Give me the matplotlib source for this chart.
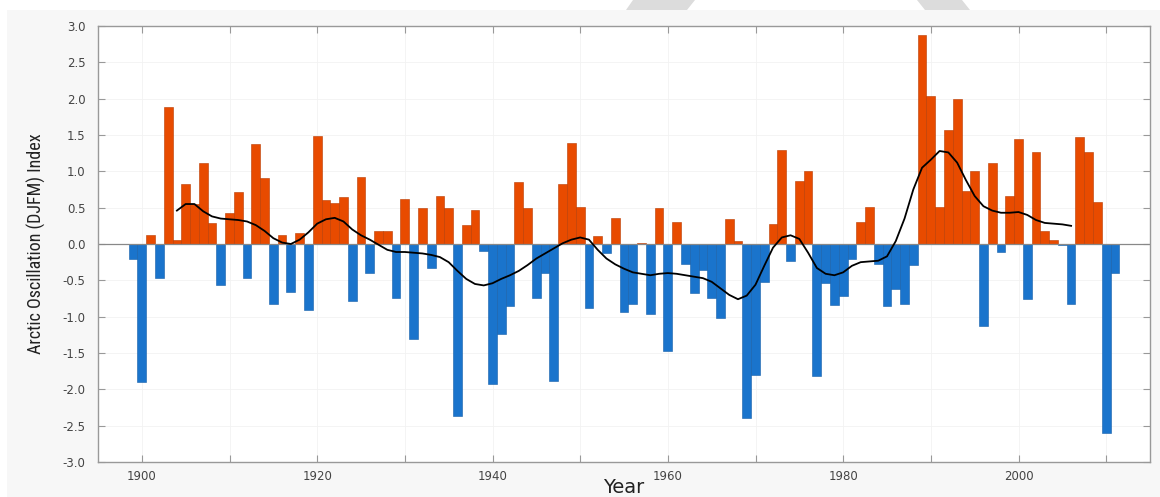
"""
Arctic Oscillation (DJFM) index, 1899-2011, with smoothed curve
"""

import matplotlib
matplotlib.use('Agg')
import matplotlib.pyplot as plt
from matplotlib import font_manager
from matplotlib.patches import Polygon, Rectangle

# Winter (DJFM) AO index, one value per year starting 1899
first_year = 1899
ao_index = [
    -0.20, -1.90, 0.12, -0.47, 1.88, 0.05, 0.82, 0.55, 1.12, 0.29,   # 1899-1908
    -0.57, 0.42, 0.72, -0.47, 1.38, 0.91, -0.83, 0.13, -0.66, 0.15,  # 1909-1918
    -0.91, 1.48, 0.61, 0.56, 0.64, -0.78, 0.92, -0.40, 0.18, 0.18,   # 1919-1928
    -0.74, 0.62, -1.31, 0.50, -0.33, 0.66, 0.49, -2.37, 0.26, 0.47,  # 1929-1938
    -0.09, -1.92, -1.24, -0.86, 0.86, 0.50, -0.74, -0.40, -1.88, 0.83,  # 1939-1948
    1.39, 0.51, -0.88, 0.11, -0.13, 0.36, -0.93, -0.83, 0.02, -0.97,  # 1949-1958
    0.50, -1.47, 0.30, -0.27, -0.68, -0.36, -0.74, -1.02, 0.35, 0.04,  # 1959-1968
    -2.40, -1.80, -0.52, 0.28, 1.29, -0.23, 0.87, 1.00, -1.81, -0.54,  # 1969-1978
    -0.84, -0.72, -0.21, 0.30, 0.51, -0.28, -0.86, -0.62, -0.83, -0.29,  # 1979-1988
    2.88, 2.04, 0.51, 1.57, 2.00, 0.73, 1.01, -1.13, 1.12, -0.11,    # 1989-1998
    0.66, 1.44, -0.75, 1.26, 0.18, 0.06, -0.02, -0.83, 1.47, 1.26,   # 1999-2008
    0.58, -2.60, -0.40,                                              # 2009-2011
]
years = list(range(first_year, first_year + len(ao_index)))

# Smoothed curve, 1904-2006
smooth_start = 1904
ao_smooth = [
    0.46, 0.55, 0.55, 0.45, 0.38, 0.35, 0.34, 0.33, 0.31, 0.26,      # 1904-1913
    0.18, 0.08, 0.02, 0.00, 0.06, 0.16, 0.28, 0.34, 0.36, 0.31,      # 1914-1923
    0.20, 0.12, 0.06, -0.01, -0.08, -0.11, -0.11, -0.12, -0.13, -0.15,  # 1924-1933
    -0.18, -0.25, -0.37, -0.48, -0.55, -0.57, -0.54, -0.48, -0.43, -0.37,  # 1934-1943
    -0.29, -0.20, -0.13, -0.06, 0.01, 0.06, 0.09, 0.06, -0.08, -0.20,  # 1944-1953
    -0.28, -0.34, -0.39, -0.41, -0.43, -0.41, -0.40, -0.41, -0.43, -0.45,  # 1954-1963
    -0.47, -0.52, -0.61, -0.70, -0.76, -0.71, -0.56, -0.30, -0.05, 0.09,  # 1964-1973
    0.12, 0.07, -0.12, -0.33, -0.41, -0.43, -0.39, -0.30, -0.25, -0.24,  # 1974-1983
    -0.23, -0.17, 0.04, 0.35, 0.75, 1.05, 1.16, 1.28, 1.26, 1.12,    # 1984-1993
    0.88, 0.66, 0.52, 0.46, 0.43, 0.43, 0.44, 0.40, 0.33, 0.29,      # 1994-2003
    0.28, 0.27, 0.25,                                                # 2004-2006
]
smooth_years = list(range(smooth_start, smooth_start + len(ao_smooth)))

POS_COLOR = '#e84b00'
NEG_COLOR = '#1a74cc'
POS_EDGE = '#b83a00'
NEG_EDGE = '#155fa8'


def pick_narrow_font():
    # the y label uses a condensed face; fall back to a smaller regular one
    for name, size in [('Liberation Sans Narrow', 13.5),
                       ('DejaVu Sans Condensed', 11.6),
                       ('Roboto Condensed', 13)]:
        try:
            font_manager.findfont(name, fallback_to_default=False)
            return name, size
        except ValueError:
            continue
    return 'DejaVu Sans', 10.5


fig = plt.figure(figsize=(11.6, 4.97), dpi=100)
fig.patch.set_facecolor('white')

# light grey panel behind the chart plus the grey tabs along the top edge
fig.patches.append(Rectangle((7 / 1160, 0), 1 - 7 / 1160, 1 - 10 / 497,
                             transform=fig.transFigure, facecolor='#f7f7f7',
                             edgecolor='none', zorder=-5))
for tab in ([(626, 10), (633, 0), (695, 0), (687, 10)],
            [(925, 10), (917, 0), (962, 0), (970, 10)]):
    pts = [(x / 1160, 1 - y / 497) for x, y in tab]
    fig.patches.append(Polygon(pts, closed=True, transform=fig.transFigure,
                               facecolor='#dcdcdc', edgecolor='none', zorder=-5))

ax = fig.add_axes([98 / 1160, 1 - 462 / 497, 1052 / 1160, 436 / 497])
ax.set_zorder(1)
ax.set_facecolor('white')

colors = [POS_COLOR if v >= 0 else NEG_COLOR for v in ao_index]
edges = [POS_EDGE if v >= 0 else NEG_EDGE for v in ao_index]
ax.bar(years, ao_index, width=1.0, color=colors, edgecolor=edges,
       linewidth=0.4, zorder=2)

ax.plot(smooth_years, ao_smooth, color='black', linewidth=1.3, zorder=3)
ax.axhline(0, color='#888888', linewidth=0.9, zorder=2.5)

ax.set_xlim(1895, 2015)
ax.set_ylim(-3.0, 3.0)
ax.set_xticks(range(1900, 2011, 20))
ax.set_xticks(range(1900, 2011, 10), minor=True)
ax.set_yticks([i * 0.5 for i in range(-6, 7)])
ax.set_yticklabels([f'{i * 0.5:.1f}' for i in range(-6, 7)])

ax.tick_params(axis='both', which='both', direction='in', top=True,
               right=True, color='#999999', labelcolor='#444444',
               labelsize=8.5, length=5, width=0.8)
ax.tick_params(axis='x', pad=6)
ax.tick_params(axis='y', pad=9)
ax.grid(True, which='both', color='#f2f2f2', linewidth=0.6, zorder=0)
ax.set_axisbelow(True)

for side, spine in ax.spines.items():
    spine.set_color('#999999')
    spine.set_linewidth(1.0)

label_font, label_size = pick_narrow_font()
ax.set_xlabel('Year', fontsize=14, color='#222222', labelpad=-4)
ax.set_ylabel('Arctic Oscillation (DJFM) Index', fontsize=label_size,
              family=label_font, color='#222222', labelpad=12)

plt.savefig('out.png', dpi=100)
